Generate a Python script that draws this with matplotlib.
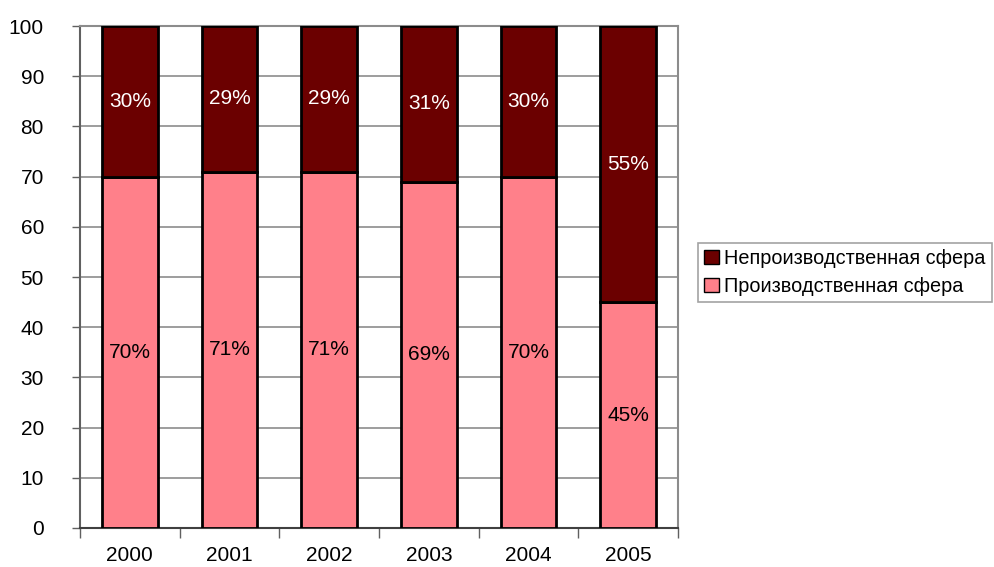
import numpy as np
import matplotlib.pyplot as plt
from matplotlib.patches import Patch

plt.rcParams['font.family'] = ['Liberation Sans', 'DejaVu Sans']

years = ['2000', '2001', '2002', '2003', '2004', '2005']
prod = [70, 71, 71, 69, 70, 45]
nonprod = [30, 29, 29, 31, 30, 55]
yticks = [0, 10, 20, 30, 40, 50, 60, 70, 80, 90, 100]

dark = '#6B0000'
pink = '#FF808A'
gray = '#8C8C8C'

fig = plt.figure(figsize=(9.95, 5.67), dpi=100)
ax = fig.add_axes([0.0804, 0.0688, 0.6010, 0.8853])

x = np.arange(len(years))
w = 0.56
ax.bar(x, prod, w, color=pink, edgecolor='black', linewidth=2, zorder=3)
ax.bar(x, nonprod, w, bottom=prod, color=dark, edgecolor='black', linewidth=2, zorder=3)

for i in range(len(years)):
    ax.text(x[i], prod[i] / 2, f'{prod[i]}%', ha='center', va='center',
            fontsize=15, color='black', zorder=4)
    ax.text(x[i], prod[i] + nonprod[i] / 2, f'{nonprod[i]}%', ha='center',
            va='center', fontsize=15, color='white', zorder=4)

ax.set_xlim(-0.5, len(years) - 0.5)
ax.set_ylim(0, 100)
ax.set_yticks(yticks)
ax.set_yticklabels([str(v) for v in yticks], fontsize=15)
ax.tick_params(axis='y', length=6, width=1, color='#606060', pad=20, direction='out')
ax.yaxis.grid(True, color=gray, linewidth=1.2, zorder=0)

ax.set_xticks(x)
ax.set_xticklabels(years, fontsize=15)
ax.set_xticks(np.arange(-0.5, len(years)), minor=True)
ax.tick_params(axis='x', which='major', length=0, pad=13)
ax.tick_params(axis='x', which='minor', length=7, width=1, color='#606060')

for s in ax.spines.values():
    s.set_color(gray)
    s.set_linewidth(1.5)
ax.spines['left'].set_color('#606060')
ax.spines['bottom'].set_color('#404040')

handles = [Patch(facecolor=dark, edgecolor='black', label='Непроизводственная сфера'),
           Patch(facecolor=pink, edgecolor='black', label='Производственная сфера')]
leg = fig.legend(handles=handles, loc='upper left', bbox_to_anchor=(0.702, 1 - 243 / 567),
                 fontsize=14.3, frameon=True, fancybox=False, edgecolor=gray,
                 handlelength=0.75, handleheight=0.75, handletextpad=0.25,
                 borderpad=0.3, labelspacing=0.45, borderaxespad=0)
leg.get_frame().set_linewidth(1.2)

fig.savefig('out.png', dpi=100)
